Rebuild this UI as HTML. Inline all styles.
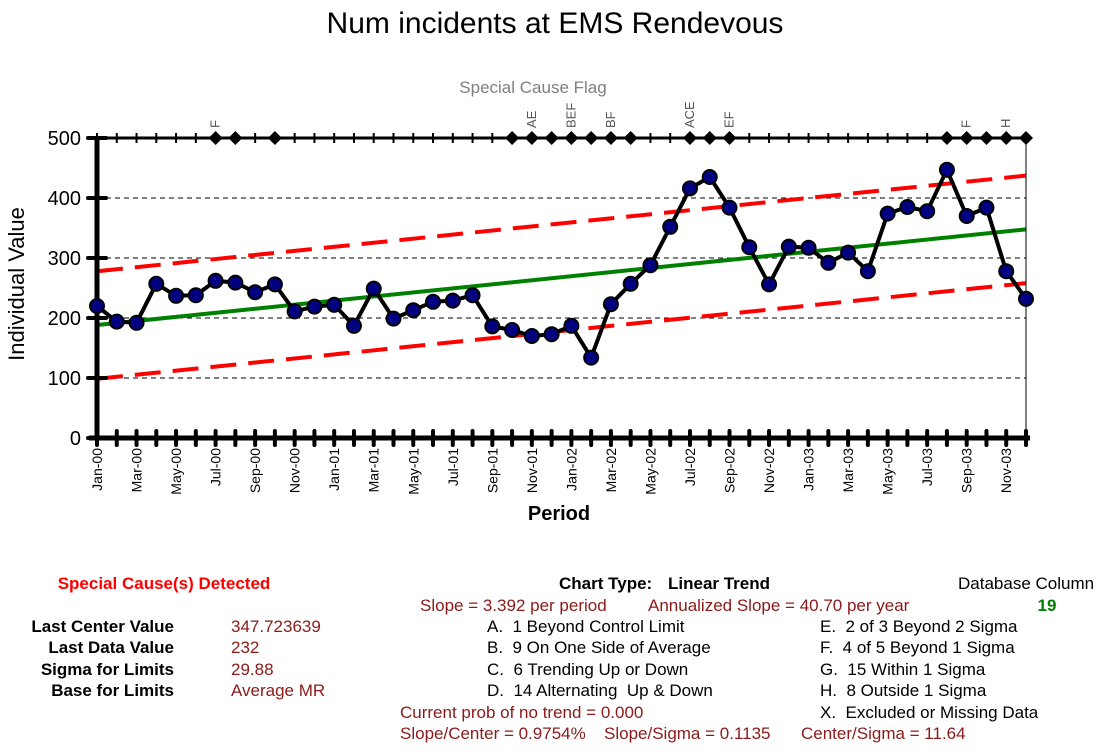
<!DOCTYPE html>
<html><head><meta charset="utf-8"><style>
body{margin:0;background:#fff;}
svg{display:block;font-family:"Liberation Sans",Arial,sans-serif;}
</style></head><body>
<svg id="chart" width="1105" height="753" viewBox="0 0 1105 753">
<text x="555" y="33" font-size="30" text-anchor="middle">Num incidents at EMS Rendevous</text>
<text x="533" y="93" font-size="17" fill="#808080" text-anchor="middle">Special Cause Flag</text>
<g id="grid"></g>
<g id="limits"></g>
<g id="axes"></g>
<g id="series"></g>
<g id="flags"></g>
<g id="xlabels"></g>
<text x="559" y="520" font-size="20" font-weight="bold" text-anchor="middle">Period</text>
<text transform="translate(24,284) rotate(-90)" font-size="22" text-anchor="middle">Individual Value</text>

<g font-size="17">
<text x="164" y="589" fill="#ff0000" font-weight="bold" text-anchor="middle">Special Cause(s) Detected</text>
<g font-weight="bold" text-anchor="end">
<text x="174" y="632">Last Center Value</text>
<text x="174" y="653">Last Data Value</text>
<text x="174" y="675">Sigma for Limits</text>
<text x="174" y="696">Base for Limits</text>
</g>
<g fill="#8b1a1a">
<text x="231" y="632">347.723639</text>
<text x="231" y="653">232</text>
<text x="231" y="675">29.88</text>
<text x="231" y="696">Average MR</text>
<text x="420" y="611">Slope = 3.392 per period</text>
<text x="648" y="611">Annualized Slope = 40.70 per year</text>
<text x="400" y="718">Current prob of no trend = 0.000</text>
<text x="400" y="739">Slope/Center = 0.9754%</text>
<text x="604" y="739">Slope/Sigma = 0.1135</text>
<text x="801" y="739">Center/Sigma = 11.64</text>
</g>
<text x="559" y="589" font-weight="bold">Chart Type:</text>
<text x="668" y="589" font-weight="bold">Linear Trend</text>
<text x="958" y="589">Database Column</text>
<text x="1047" y="611" fill="#008000" font-weight="bold" text-anchor="middle">19</text>
<g>
<text x="487" y="632" xml:space="preserve">A.  1 Beyond Control Limit</text>
<text x="487" y="653" xml:space="preserve">B.  9 On One Side of Average</text>
<text x="487" y="675" xml:space="preserve">C.  6 Trending Up or Down</text>
<text x="487" y="696" xml:space="preserve">D.  14 Alternating  Up &amp; Down</text>
<text x="820" y="632" xml:space="preserve">E.  2 of 3 Beyond 2 Sigma</text>
<text x="820" y="653" xml:space="preserve">F.  4 of 5 Beyond 1 Sigma</text>
<text x="820" y="675" xml:space="preserve">G.  15 Within 1 Sigma</text>
<text x="820" y="696" xml:space="preserve">H.  8 Outside 1 Sigma</text>
<text x="820" y="718" xml:space="preserve">X.  Excluded or Missing Data</text>
</g>
</g>
</svg>
<script>
const months = ["Jan","Feb","Mar","Apr","May","Jun","Jul","Aug","Sep","Oct","Nov","Dec"];
const years = ["00","01","02","03"];
const values = [220,194,192,257,237,238,262,259,243,256,211,219,222,187,249,199,213,227,229,238,186,180,170,173,187,134,223,257,288,352,416,435,384,318,256,319,317,292,309,278,374,385,378,447,370,384,278,232];
const centerLast = 347.723639;
const slope = 3.392;
const sigma = 29.88;
const flagIdx = [6,7,9,21,22,23,24,25,26,27,30,31,32,43,44,45,46,47];
const flagLabelIdx = [6,22,24,26,30,32,44,46];
const flagLabels = ["F","AE","BEF","BF","ACE","EF","F","H"];
const yTicks = [0,100,200,300,400,500];

const NS="http://www.w3.org/2000/svg";
const X0=97, X1=1026, Y0=438, Y1=138, YMAX=500;
const n=values.length;
const xs=i=>X0+i*(X1-X0)/(n-1);
const ys=v=>Y0-(v/YMAX)*(Y0-Y1);
function mk(tag,attrs,parent){const e=document.createElementNS(NS,tag);for(const k in attrs)e.setAttribute(k,attrs[k]);document.getElementById(parent).appendChild(e);return e;}

yTicks.slice(1,5).forEach(t=>{
  const l=mk('line',{x1:X0,x2:X1,y1:ys(t),y2:ys(t),stroke:'#000','stroke-width':1,'stroke-dasharray':'5,4'},'grid');
  
  
});
const c0=centerLast-slope*(n-1);
const cl=i=>c0+slope*i;
const center=mk('line',{x1:xs(0),x2:xs(n-1),y1:ys(cl(0)),y2:ys(cl(n-1)),stroke:'#008000','stroke-width':4},'limits');


[3,-3].forEach(k=>{
  const l=mk('line',{x1:xs(0),x2:xs(n-1),y1:ys(cl(0)+k*sigma),y2:ys(cl(n-1)+k*sigma),stroke:'#ff0000','stroke-width':4,'stroke-dasharray':'26,12'},'limits');
  
  
});
const ax=[
 ['line',{x1:X0,x2:X0,y1:Y1,y2:Y0+2,stroke:'#000','stroke-width':5},'y-axis-line'],
 ['line',{x1:X0-8,x2:X1+4,y1:Y0,y2:Y0,stroke:'#000','stroke-width':5},'x-axis-line'],
 ['line',{x1:X0-8,x2:X1+4,y1:Y1,y2:Y1,stroke:'#000','stroke-width':3},'flag-axis-line'],
 ['line',{x1:X1,x2:X1,y1:Y1,y2:Y0,stroke:'#000','stroke-width':1},'right-border']
];
ax.forEach(a=>{const e=mk(a[0],a[1],'axes');});
yTicks.forEach(t=>{
  const tk=mk('line',{x1:X0-9,x2:X0+9,y1:ys(t),y2:ys(t),stroke:'#000','stroke-width':4,'stroke-linecap':'round'},'axes');
  
  
  const tx=mk('text',{x:X0-16,y:ys(t)+7,'font-size':20,'text-anchor':'end'},'axes');
  tx.textContent=t;
  
  
});
for(let i=0;i<n;i++){
  const b=mk('line',{x1:xs(i),x2:xs(i),y1:Y0-7,y2:Y0+7,stroke:'#000','stroke-width':4,'stroke-linecap':'round'},'axes');
  
  
  const t=mk('line',{x1:xs(i),x2:xs(i),y1:Y1-5,y2:Y1+5,stroke:'#000','stroke-width':2},'axes');
  
  
  if(i%2===0){
    const lab=months[i%12]+'-'+years[Math.floor(i/12)];
    const tx=mk('text',{transform:`translate(${xs(i)+5},448) rotate(-90)`,'font-size':14,'text-anchor':'end'},'xlabels');
    tx.textContent=lab;
    
    
  }
}
const line=mk('polyline',{points:values.map((v,i)=>xs(i)+','+ys(v)).join(' '),fill:'none',stroke:'#000','stroke-width':4,'stroke-linejoin':'round'},'series');


values.forEach((v,i)=>{
  const c=mk('circle',{cx:xs(i),cy:ys(v),r:7,fill:'#000080',stroke:'#000','stroke-width':2},'series');
  
  
});
flagIdx.forEach(i=>{
  const x=xs(i);
  const d=mk('polygon',{points:`${x},${Y1-7} ${x+7},${Y1} ${x},${Y1+7} ${x-7},${Y1}`,fill:'#000'},'flags');
  
  
});
flagLabelIdx.forEach((i,k)=>{
  const tx=mk('text',{transform:`translate(${xs(i)+4},${Y1-10}) rotate(-90)`,'font-size':13,fill:'#555'},'flags');
  tx.textContent=flagLabels[k];
  
  
});
</script>
</body></html>
